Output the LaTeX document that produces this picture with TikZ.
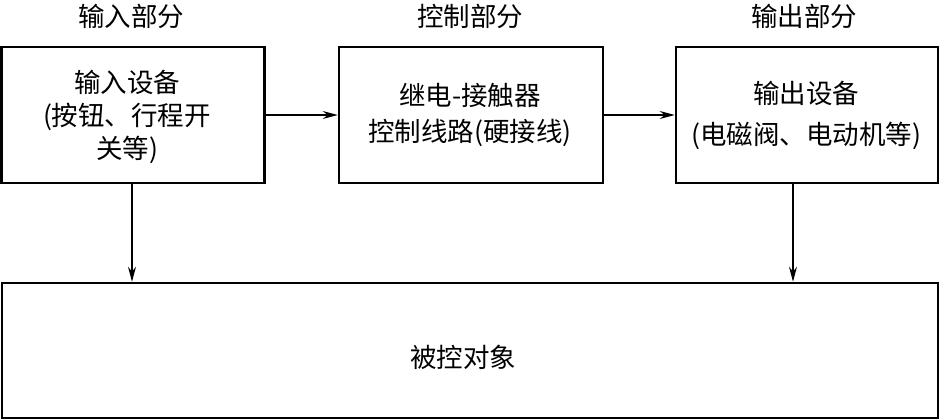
\documentclass[tikz,border=0pt]{standalone}
\usepackage{fontspec}
\setmainfont{Noto Sans CJK SC}
\usetikzlibrary{arrows.meta}
\begin{document}
\begin{tikzpicture}[x=1pt,y=-1pt,
  blk/.style={draw,line width=2.6pt,inner sep=0pt},
  lbl/.style={font=\fontsize{26.5}{33}\selectfont,align=center,inner sep=0pt},
  ttl/.style={font=\fontsize{26.5}{30}\selectfont,inner sep=0pt},
  conn/.style={line width=1.2pt,-{Stealth[length=15pt,width=8pt,inset=5pt]}}]
\useasboundingbox (0,0) rectangle (940,420);
% blocks
\node[blk,minimum width=263pt,minimum height=136pt] (in) at (133,115) {};
\node[blk,minimum width=264pt,minimum height=136pt] (ctl) at (471,115) {};
\node[blk,minimum width=262pt,minimum height=136pt] (out) at (807,115) {};
\node[blk,minimum width=936pt,minimum height=135pt] (obj) at (470,350.5) {};
% texts
\node[lbl] (tin) at (127,117) {输入设备\\(按钮、行程开\\关等)};
\node[lbl,font=\fontsize{26.5}{36}\selectfont] (tctl) at (470,115) {继电-接触器\\控制线路(硬接线)};
\node[lbl,font=\fontsize{26.5}{41}\selectfont] (tout) at (806,115) {输出设备\\(电磁阀、电动机等)};
\node[lbl] (tobj) at (463,357) {被控对象};
% titles
\node[ttl] (h1) at (131,16) {输入部分};
\node[ttl] (h2) at (470,16) {控制部分};
\node[ttl] (h3) at (804,16) {输出部分};
% connectors
\draw[conn] (in.east) -- (ctl.west);
\draw[conn] (ctl.east) -- (out.west);
\coordinate (a1) at (132,183);
\coordinate (a2) at (793,183);
\draw[conn] (a1) -- (a1 |- obj.north);
\draw[conn] (a2) -- (a2 |- obj.north);
\end{tikzpicture}
\end{document}
